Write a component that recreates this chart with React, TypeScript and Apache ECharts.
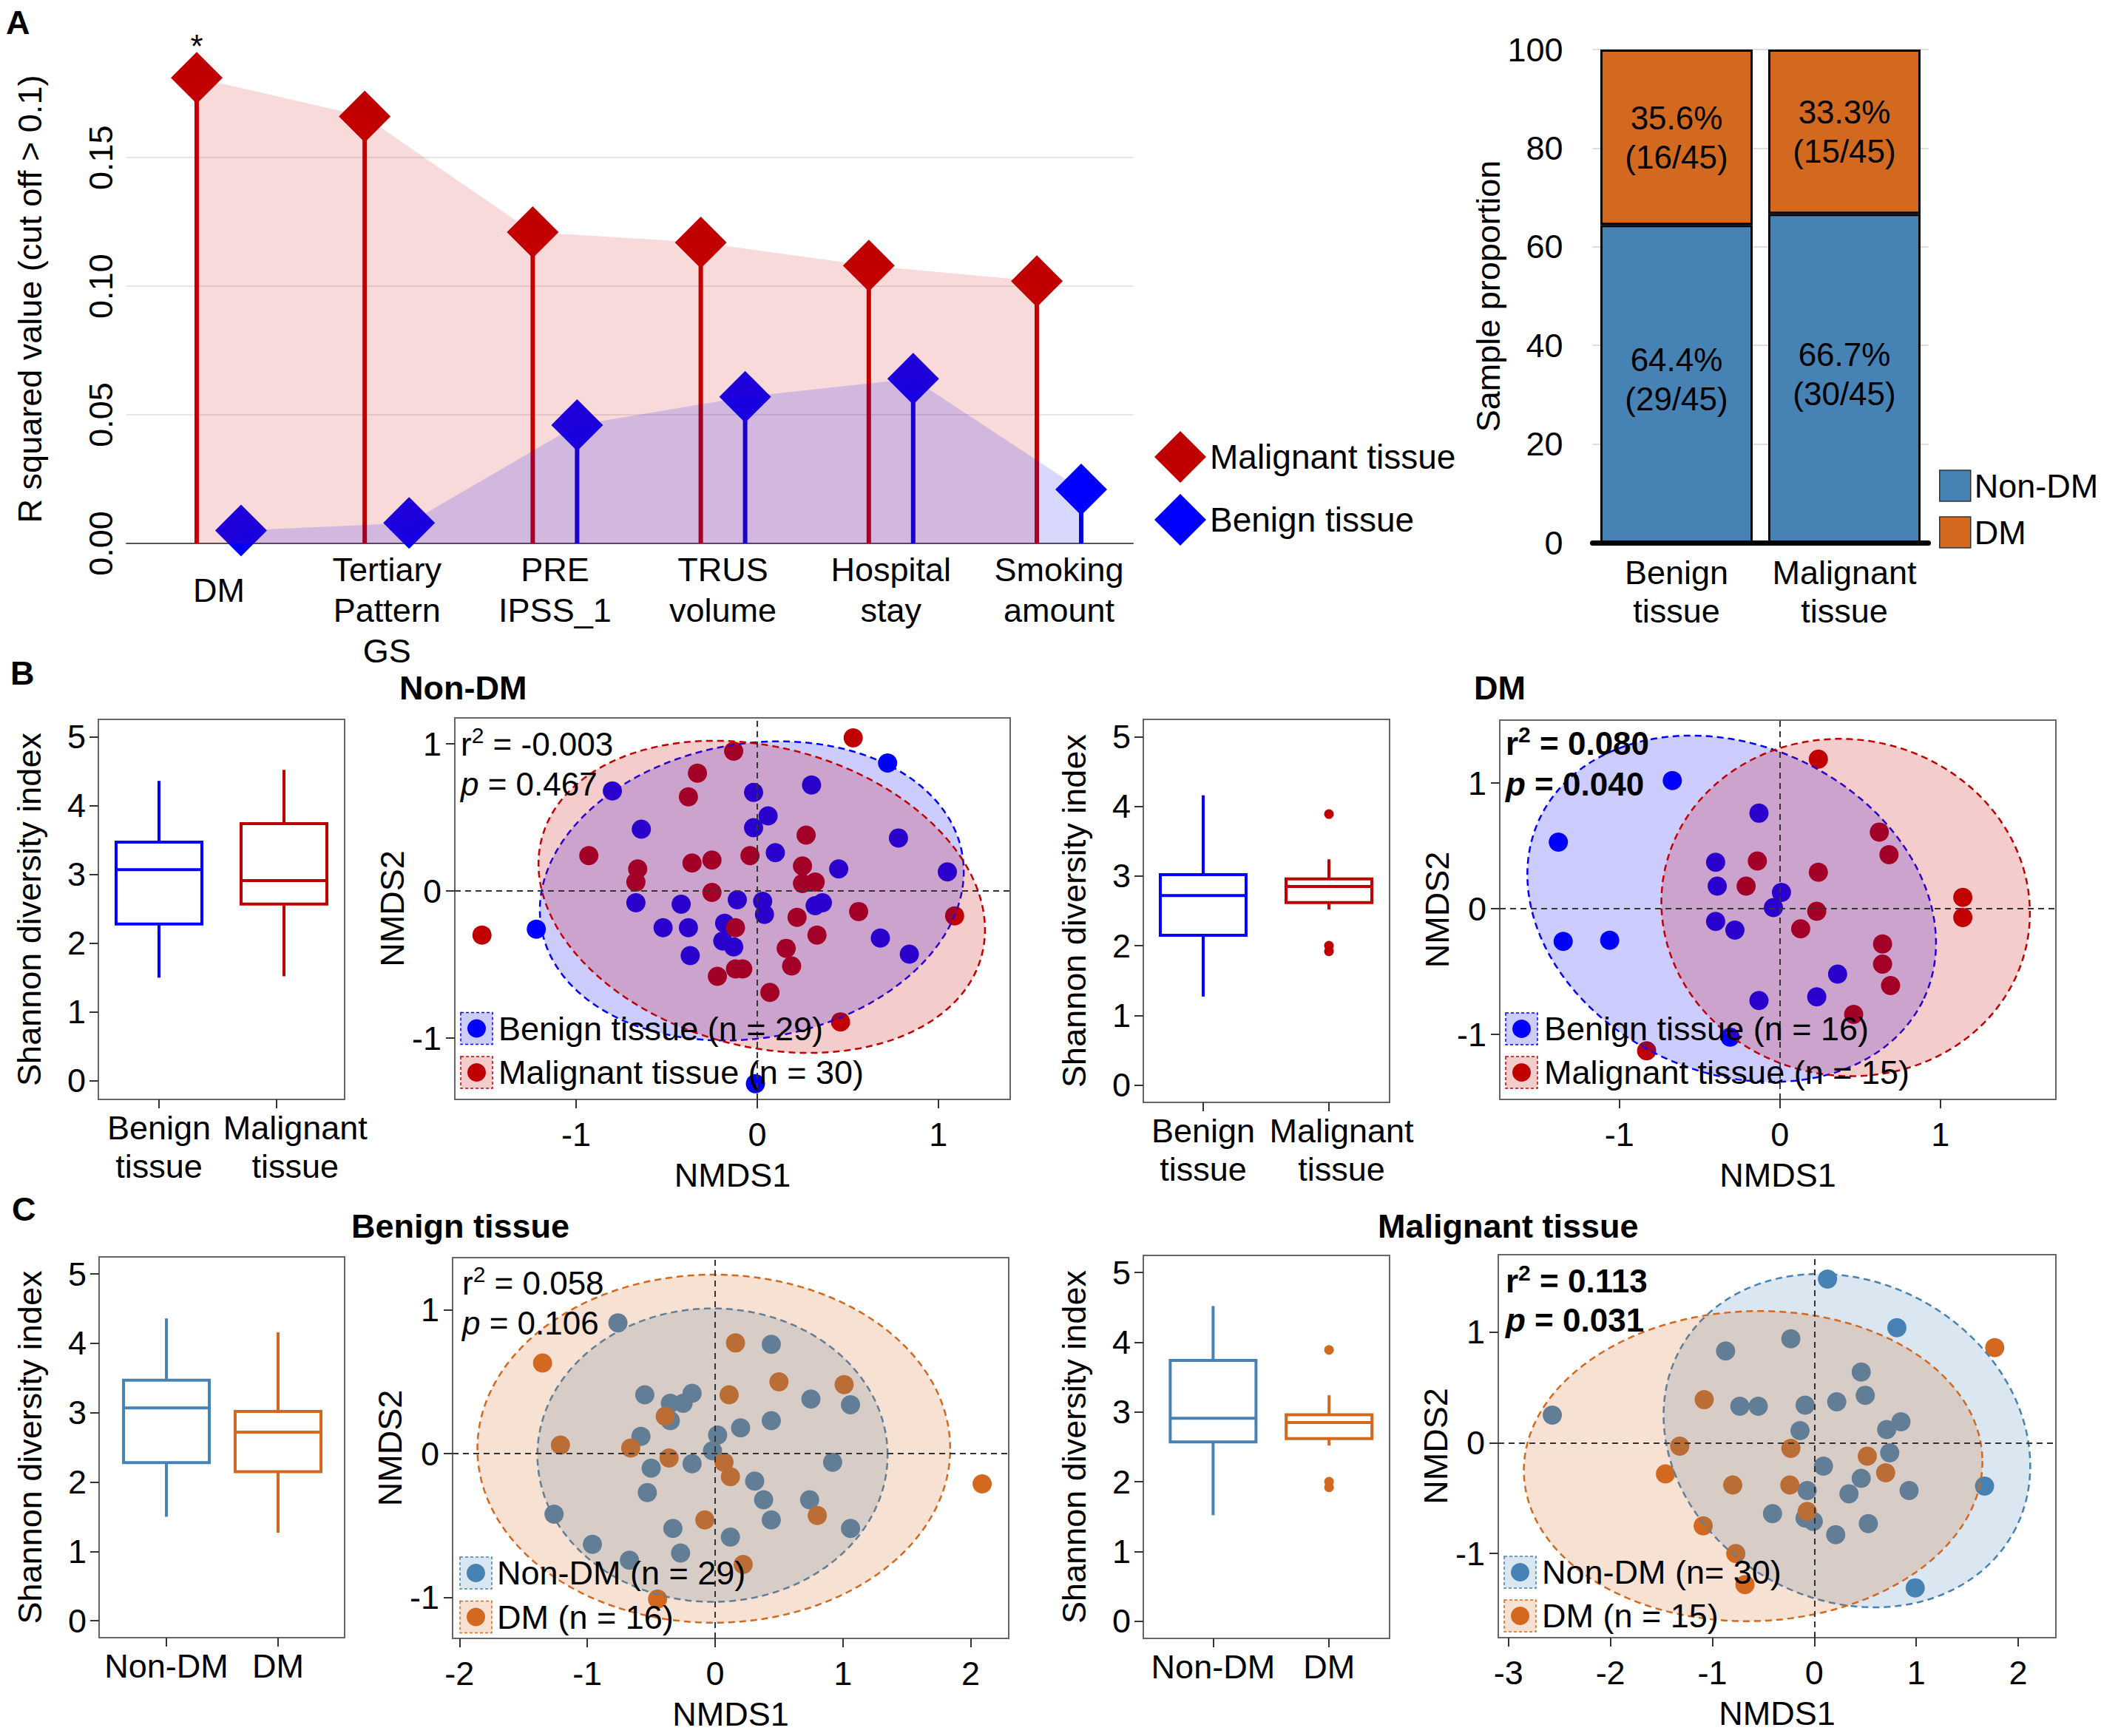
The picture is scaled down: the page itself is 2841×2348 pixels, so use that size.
import React, { useEffect, useRef } from "react";
import * as echarts from "echarts";

const FONT = "Liberation Sans, Arial, Helvetica, sans-serif";

// ---------- Panel A (left): R squared lollipop ----------
const aCategories = ["DM", "Tertiary\nPattern\nGS", "PRE\nIPSS_1", "TRUS\nvolume", "Hospital\nstay", "Smoking\namount"];
const aMalignantR2 = [0.181, 0.166, 0.121, 0.117, 0.108, 0.102];
const aBenignR2 = [0.005, 0.008, 0.046, 0.057, 0.064, 0.021];
const aSignificance = ["*", "", "", "", "", ""];
const aYTicks = [0, 0.05, 0.1, 0.15];

// ---------- Panel A (right): sample proportions ----------
const barCategories = ["Benign\ntissue", "Malignant\ntissue"];
const barNonDMCounts = [29, 30];
const barDMCounts = [16, 15];
const barTotals = [45, 45];

// ---------- Shannon boxplots: [min, Q1, median, Q3, max] ----------
const boxBenignNonDM = [1.5, 2.28, 3.07, 3.47, 4.36];
const boxBenignDM = [1.27, 2.15, 2.72, 3.02, 4.16];
const boxMalignantNonDM = [1.52, 2.57, 2.91, 3.74, 4.52];
const boxMalignantDM = [2.52, 2.62, 2.85, 2.96, 3.24];
const outliersMalignantDM = [3.89, 2.0, 1.92];
const shannonTicks = [0, 1, 2, 3, 4, 5];
const tissueLabels = ["Benign\ntissue", "Malignant\ntissue"];
const dmLabels = ["Non-DM", "DM"];

// ---------- NMDS (B, Non-DM) ----------
const bNonDMBenign = [[-0.8, 0.68], [0.3, 0.72], [0.72, 0.87], [-0.02, 0.67], [0.06, 0.51], [-0.02, 0.43], [-0.64, 0.42], [0.78, 0.36], [0.1, 0.26], [0.45, 0.15], [1.05, 0.13], [-0.67, -0.08], [-0.42, -0.09], [-0.11, -0.06], [0.03, -0.07], [0.04, -0.16], [0.32, -0.1], [0.36, -0.08], [-0.52, -0.25], [-0.38, -0.25], [-0.18, -0.22], [-0.19, -0.34], [-0.13, -0.38], [-0.37, -0.44], [0.68, -0.32], [0.84, -0.43], [-1.22, -0.26], [-0.01, -1.31]];
const bNonDMMalignant = [[0.53, 1.04], [-0.13, 0.95], [-0.33, 0.8], [-0.38, 0.64], [0.27, 0.38], [-0.93, 0.24], [-0.66, 0.15], [-0.67, 0.06], [-0.36, 0.19], [-0.25, 0.21], [-0.04, 0.24], [0.25, 0.17], [0.25, 0.05], [0.32, 0.06], [-0.25, -0.01], [0.22, -0.18], [0.56, -0.14], [1.09, -0.17], [-0.12, -0.25], [0.33, -0.3], [0.16, -0.39], [0.19, -0.51], [-0.12, -0.53], [-0.08, -0.53], [-0.22, -0.58], [0.07, -0.69], [0.46, -0.89], [-1.52, -0.3]];
// ellipses: [cx, cy, semi-axis a (x units), semi-axis b (y units), on-screen tilt in degrees]
const bNonDMBenignEllipse = [-0.03, 0.0, 1.18, 1.0, 10];
const bNonDMMalignantEllipse = [0.025, -0.04, 1.257, 1.017, -15];
const bNonDMStats = ["-0.003", "0.467"];

// ---------- NMDS (B, DM) ----------
const bDMBenign = [[-0.67, 1.02], [-1.38, 0.53], [-1.35, -0.26], [-1.06, -0.25], [-0.13, 0.76], [-0.4, 0.37], [-0.39, 0.18], [0.01, 0.13], [-0.04, 0.01], [-0.4, -0.1], [-0.28, -0.17], [0.36, -0.52], [0.23, -0.7], [-0.13, -0.73], [-0.31, -1.02]];
const bDMMalignant = [[0.24, 1.19], [0.62, 0.61], [0.68, 0.43], [-0.14, 0.38], [0.24, 0.29], [-0.21, 0.18], [0.23, -0.02], [0.13, -0.16], [1.14, 0.09], [1.14, -0.07], [0.64, -0.28], [0.64, -0.44], [0.69, -0.61], [0.46, -0.84], [-0.83, -1.13]];
const bDMBenignEllipse = [-0.3, 0.0, 1.322, 1.3, -25];
const bDMMalignantEllipse = [0.41, 0.01, 1.151, 1.337, -10];
const bDMStats = ["0.080", "0.040"];

// ---------- NMDS (C, Benign tissue) ----------
const cBenignNonDM = [[-0.76, 0.91], [0.44, 0.76], [-0.55, 0.41], [-0.18, 0.42], [-0.25, 0.35], [-0.35, 0.35], [-0.35, 0.23], [0.75, 0.38], [1.06, 0.34], [0.44, 0.23], [0.2, 0.18], [-0.58, 0.12], [0.02, 0.13], [-0.02, 0.02], [-0.5, -0.1], [-0.18, -0.07], [0.92, -0.06], [0.31, -0.19], [0.38, -0.32], [0.74, -0.32], [-0.53, -0.27], [-1.26, -0.42], [0.44, -0.46], [1.06, -0.52], [-0.33, -0.52], [0.12, -0.58], [-0.96, -0.63], [-0.27, -0.69], [-0.67, -0.74]];
const cBenignDM = [[-1.35, 0.63], [0.16, 0.77], [0.5, 0.5], [1.01, 0.48], [0.11, 0.41], [-0.39, 0.26], [-1.21, 0.06], [-0.66, 0.04], [-0.36, -0.03], [0.07, -0.06], [0.12, -0.16], [-0.08, -0.46], [0.8, -0.43], [2.09, -0.21], [0.22, -0.77], [-0.45, -1.01]];
const cBenignNonDMEllipse = [-0.02, -0.01, 1.37, 1.02, 0];
const cBenignDMEllipse = [-0.01, 0.035, 1.85, 1.21, 0];
const cBenignStats = ["0.058", "0.106"];

// ---------- NMDS (C, Malignant tissue) ----------
const cMalignantNonDM = [[0.13, 1.48], [0.81, 1.04], [-0.23, 0.94], [-0.87, 0.83], [0.46, 0.64], [0.5, 0.43], [0.22, 0.37], [-0.09, 0.34], [-0.73, 0.33], [-0.55, 0.33], [-2.57, 0.25], [-0.14, 0.11], [0.71, 0.12], [0.85, 0.19], [0.74, -0.09], [0.09, -0.21], [0.46, -0.32], [-0.07, -0.43], [0.34, -0.46], [0.93, -0.43], [1.67, -0.39], [-0.41, -0.64], [-0.09, -0.68], [-0.01, -0.71], [0.53, -0.73], [0.21, -0.83], [0.99, -1.31]];
const cMalignantDM = [[1.77, 0.86], [-1.08, 0.39], [-1.32, -0.03], [-0.23, -0.05], [0.52, -0.12], [0.7, -0.27], [-1.46, -0.28], [-0.8, -0.38], [-0.24, -0.38], [-1.09, -0.75], [-0.77, -1.0], [-0.68, -1.28], [-0.07, -0.62]];
const cMalignantNonDMEllipse = [0.32, 0.02, 1.866, 1.435, -29];
const cMalignantDMEllipse = [-0.6, -0.21, 2.25, 1.4, 2];
const cMalignantStats = ["0.113", "0.031"];

// ---------- colours ----------
const BLUE = "#0000FF";
const RED = "#C00000";
const STEEL = "#4682B4";
const CHOC = "#D2691E";

const axisText = { fontFamily: FONT, fontSize: 45, color: "#000" };
const tickStyle = { color: "#333", width: 2 };

function frameGrid(left: number, top: number, width: number, height: number) {
  return { left, top, width, height, show: true, borderColor: "#666", borderWidth: 2, backgroundColor: "transparent" };
}

function boxXAxis(gridIndex: number, min: number, max: number, labels: string[], ticks: number[] = [1, 2], labelPos: number[] = [1, 2]) {
  return {
    type: "value", gridIndex, min, max,
    axisLine: { show: false, onZero: false },
    axisTick: { show: true, length: 12, lineStyle: tickStyle, customValues: ticks },
    axisLabel: {
      ...axisText, customValues: labelPos, lineHeight: 52, margin: 12, showMinLabel: true, showMaxLabel: true,
      formatter: (v: number) => labels[Math.round(v) - 1] ?? "",
    },
    splitLine: { show: false },
  };
}
function boxYAxis(gridIndex: number, min: number, max: number) {
  return {
    type: "value", gridIndex, min, max,
    axisLine: { show: false, onZero: false },
    axisTick: { show: true, length: 12, lineStyle: tickStyle, customValues: shannonTicks },
    axisLabel: { ...axisText, customValues: shannonTicks, margin: 17, showMinLabel: true, showMaxLabel: true },
    splitLine: { show: false },
    name: "Shannon diversity index", nameLocation: "middle", nameGap: 71, nameTextStyle: axisText,
  };
}
function nmdsXAxis(gridIndex: number, min: number, max: number, ticks: number[]) {
  return {
    type: "value", gridIndex, min, max,
    axisLine: { show: false, onZero: false },
    axisTick: { show: true, length: 12, lineStyle: tickStyle, customValues: ticks },
    axisLabel: { ...axisText, customValues: ticks, margin: 25, showMinLabel: true, showMaxLabel: true },
    splitLine: { show: false },
    name: "NMDS1", nameLocation: "middle", nameGap: 80, nameTextStyle: axisText,
  };
}
function nmdsYAxis(gridIndex: number, min: number, max: number, ticks: number[]) {
  return {
    type: "value", gridIndex, min, max,
    axisLine: { show: false, onZero: false },
    axisTick: { show: true, length: 12, lineStyle: tickStyle, customValues: ticks },
    axisLabel: { ...axisText, customValues: ticks, margin: 18, showMinLabel: true, showMaxLabel: true },
    splitLine: { show: false },
    name: "NMDS2", nameLocation: "middle", nameGap: 58, nameTextStyle: axisText,
  };
}

function boxSeries(name: string, idx: number, boxes: number[][], colors: string[]) {
  return {
    type: "custom", name, xAxisIndex: idx, yAxisIndex: idx, z: 2, silent: true,
    data: boxes.map((b, i) => [i + 1, ...b]),
    encode: { x: 0, y: [1, 2, 3, 4, 5] },
    renderItem: (params: any, api: any) => {
      const x = api.value(0);
      const pMin = api.coord([x, api.value(1)]);
      const pQ1 = api.coord([x, api.value(2)]);
      const pMed = api.coord([x, api.value(3)]);
      const pQ3 = api.coord([x, api.value(4)]);
      const pMax = api.coord([x, api.value(5)]);
      const hw = 58;
      const style = { stroke: colors[params.dataIndex], lineWidth: 4, fill: null };
      return {
        type: "group",
        children: [
          { type: "line", shape: { x1: pMin[0], y1: pMin[1], x2: pQ1[0], y2: pQ1[1] }, style },
          { type: "line", shape: { x1: pQ3[0], y1: pQ3[1], x2: pMax[0], y2: pMax[1] }, style },
          { type: "rect", shape: { x: pQ3[0] - hw, y: pQ3[1], width: 2 * hw, height: pQ1[1] - pQ3[1] }, style: { ...style, fill: "rgba(255,255,255,0)" } },
          { type: "line", shape: { x1: pMed[0] - hw, y1: pMed[1], x2: pMed[0] + hw, y2: pMed[1] }, style },
        ],
      };
    },
  };
}

function outlierSeries(name: string, idx: number, pos: number, values: number[], color: string) {
  return {
    type: "scatter", name, xAxisIndex: idx, yAxisIndex: idx, z: 3, silent: true,
    data: values.map((v) => [pos, v]), symbolSize: 13, itemStyle: { color, opacity: 1 },
  };
}

function pointSeries(name: string, idx: number, data: number[][], color: string) {
  return { type: "scatter", name, xAxisIndex: idx, yAxisIndex: idx, data, symbolSize: 26, itemStyle: { color, opacity: 1 }, z: 2, silent: true };
}

function ellipseSeries(name: string, idx: number, params: number[], color: string, fill: string) {
  return {
    type: "custom", name, xAxisIndex: idx, yAxisIndex: idx, z: 3, silent: true,
    data: [params],
    encode: { x: 0, y: 1 },
    renderItem: (_p: any, api: any) => {
      const c = api.coord([api.value(0), api.value(1)]);
      const A = api.size([api.value(2), 0])[0];
      const B = api.size([0, api.value(3)])[1];
      const ang = (api.value(4) * Math.PI) / 180;
      const pts: number[][] = [];
      const N = 180;
      for (let k = 0; k < N; k++) {
        const t = (k / N) * 2 * Math.PI;
        const dx = A * Math.cos(t), dy = B * Math.sin(t);
        pts.push([c[0] + dx * Math.cos(ang) - dy * Math.sin(ang), c[1] - (dx * Math.sin(ang) + dy * Math.cos(ang))]);
      }
      return { type: "polygon", shape: { points: pts }, style: { fill, stroke: color, lineWidth: 2.5, lineDash: [9, 6] } };
    },
  };
}

function crossSeries(idx: number) {
  return {
    type: "scatter", name: "cross" + idx, xAxisIndex: idx, yAxisIndex: idx, data: [], z: 4, silent: true,
    markLine: {
      silent: true, symbol: ["none", "none"], label: { show: false },
      lineStyle: { type: [8, 6], color: "#333", width: 2 },
      data: [{ xAxis: 0 }, { yAxis: 0 }],
    },
  };
}

function statsText(x: number, top: number, lh: number, stats: string[], bold: boolean) {
  const fw = bold ? "bold" : "normal";
  return {
    type: "text", x, y: top, z: 10, silent: true,
    style: {
      text: `r{sup|2} = ${stats[0]}\n{it|p} = ${stats[1]}`,
      fontFamily: FONT, fontSize: 44, fontWeight: fw, fill: "#000", lineHeight: lh,
      align: "left", verticalAlign: "top",
      rich: {
        sup: { fontFamily: FONT, fontSize: 30, fontWeight: fw, fill: "#000", lineHeight: 30, verticalAlign: "top" },
        it: { fontFamily: FONT, fontSize: 44, fontWeight: fw, fontStyle: "italic", fill: "#000", lineHeight: lh },
      },
    },
  };
}

function legendItem(x: number, cy: number, textX: number, label: string, color: string, fill: string) {
  return [
    { type: "rect", z: 10, silent: true, shape: { x, y: cy - 21.5, width: 43, height: 43 }, style: { fill, stroke: color, lineWidth: 1.5, lineDash: [4, 3] } },
    { type: "circle", z: 11, silent: true, shape: { cx: x + 21.5, cy, r: 12.5 }, style: { fill: color } },
    { type: "text", z: 11, silent: true, x: textX, y: cy, style: { text: label, fontFamily: FONT, fontSize: 45, fill: "#000", align: "left", verticalAlign: "middle" } },
  ];
}

function titleItem(text: string, left: number, centerY: number, size = 45) {
  return { text, left, top: centerY - size / 2, padding: 0, textStyle: { fontFamily: FONT, fontSize: size, lineHeight: size, fontWeight: "bold", color: "#000" } };
}

function buildOption() {
  const offset = 0.132;
  const malPts = aMalignantR2.map((v, i) => [i - offset, v]);
  const benPts = aBenignR2.map((v, i) => [i + offset, v]);
  const stem = (color: string) => (_p: any, api: any) => {
    const x = api.value(0);
    const p0 = api.coord([x, 0]);
    const p1 = api.coord([x, api.value(1)]);
    return { type: "line", shape: { x1: p0[0], y1: p0[1], x2: p1[0], y2: p1[1] }, style: { stroke: color, lineWidth: 6 } };
  };
  const pctNonDM = barNonDMCounts.map((c, i) => (c / barTotals[i]) * 100);
  const pctDM = barDMCounts.map((c, i) => (c / barTotals[i]) * 100);

  const gl = "#E6E6E6";
  const none = "rgba(0,0,0,0)";

  return {
    animation: false,
    backgroundColor: "#fff",
    textStyle: { fontFamily: FONT },
    title: [
      titleItem("A", 8, 30),
      titleItem("B", 14, 910),
      titleItem("C", 16, 1635),
      titleItem("Non-DM", 540, 930),
      titleItem("DM", 1993, 930),
      titleItem("Benign tissue", 475, 1658),
      titleItem("Malignant tissue", 1863, 1658),
    ],
    legend: [
      {
        data: ["Malignant tissue", "Benign tissue"], orient: "vertical", left: 1556, top: 578,
        itemWidth: 70, itemHeight: 70, itemGap: 15, selectedMode: false,
        textStyle: { fontFamily: FONT, fontSize: 46, color: "#000" },
      },
      {
        data: ["Non-DM", "DM"], orient: "vertical", left: 2617, top: 629.5,
        itemWidth: 42, itemHeight: 42, itemGap: 18, icon: "rect", selectedMode: false,
        itemStyle: { borderColor: "#333", borderWidth: 1.5 },
        textStyle: { fontFamily: FONT, fontSize: 45, color: "#000" },
      },
    ],
    grid: [
      { left: 171, top: 74, width: 1361, height: 661, show: false },
      { left: 2153.5, top: 67, width: 454, height: 667, show: false },
      frameGrid(133, 973, 333, 514),
      frameGrid(615, 971, 751, 516),
      frameGrid(1546, 973, 333, 518),
      frameGrid(2028, 974, 752, 513),
      frameGrid(134, 1700, 332, 515),
      frameGrid(612, 1701, 752, 515),
      frameGrid(1546, 1698, 333, 518),
      frameGrid(2026, 1697, 754, 518),
    ],
    xAxis: [
      {
        type: "value", gridIndex: 0, min: -0.55, max: 5.44,
        axisLine: { show: true, onZero: false, lineStyle: { color: "#555", width: 2 } },
        axisTick: { show: false },
        splitLine: { show: false },
        axisLabel: {
          ...axisText, customValues: [0, 1, 2, 3, 4, 5], lineHeight: 55, margin: 8, showMinLabel: true, showMaxLabel: true,
          formatter: (v: number) => {
            const i = Math.round(v);
            return aCategories[i].indexOf("\n") < 0 ? `{one|${aCategories[i]}}` : aCategories[i];
          },
          rich: { one: { fontFamily: FONT, fontSize: 45, color: "#000", lineHeight: 110 } },
        },
      },
      {
        type: "category", gridIndex: 1, data: barCategories, z: 5,
        axisLine: { show: true, lineStyle: { color: "#000", width: 7 } },
        axisTick: { show: false },
        axisLabel: { ...axisText, interval: 0, lineHeight: 52, margin: 14 },
      },
      boxXAxis(2, 0.515, 2.485, tissueLabels, [1, 1.94], [1, 2.09]),
      nmdsXAxis(3, -1.67, 1.397, [-1, 0, 1]),
      boxXAxis(4, 0.524, 2.482, tissueLabels, [1, 2], [1, 2.1]),
      nmdsXAxis(5, -1.745, 1.72, [-1, 0, 1]),
      boxXAxis(6, 0.397, 2.596, dmLabels),
      nmdsXAxis(7, -2.054, 2.298, [-2, -1, 0, 1, 2]),
      boxXAxis(8, 0.398, 2.522, dmLabels),
      nmdsXAxis(9, -3.1, 2.37, [-3, -2, -1, 0, 1, 2]),
    ],
    yAxis: [
      {
        type: "value", gridIndex: 0, min: 0, max: 0.19, interval: 0.05,
        axisLine: { show: false }, axisTick: { show: false },
        splitLine: { show: true, lineStyle: { color: [gl, gl, gl, gl, none, none], width: 2 } },
        axisLabel: { ...axisText, customValues: aYTicks, rotate: 90, margin: 12, formatter: (v: number) => v.toFixed(2) },
        name: "R squared value (cut off > 0.1)", nameLocation: "middle", nameGap: 108, nameRotate: 90, nameTextStyle: axisText,
      },
      {
        type: "value", gridIndex: 1, min: 0, max: 100, interval: 20,
        axisLine: { show: false }, axisTick: { show: false },
        splitLine: { show: true, lineStyle: { color: "#DDDDDD", width: 2 } },
        axisLabel: { ...axisText, margin: 40 },
        name: "Sample proportion", nameLocation: "middle", nameGap: 117, nameTextStyle: axisText,
      },
      boxYAxis(2, -0.27, 5.254),
      nmdsYAxis(3, -1.417, 1.176, [-1, 0, 1]),
      boxYAxis(4, -0.25, 5.25),
      nmdsYAxis(5, -1.516, 1.5, [-1, 0, 1]),
      boxYAxis(6, -0.243, 5.247),
      nmdsYAxis(7, -1.284, 1.363, [-1, 0, 1]),
      boxYAxis(8, -0.247, 5.246),
      nmdsYAxis(9, -1.76, 1.7, [-1, 0, 1]),
    ],
    series: [
      // ---- Panel A lollipop ----
      { type: "custom", name: "Benign stem", xAxisIndex: 0, yAxisIndex: 0, z: 1, silent: true, data: benPts, encode: { x: 0, y: 1 }, renderItem: stem("#0000E6") },
      { type: "scatter", name: "Benign tissue", xAxisIndex: 0, yAxisIndex: 0, z: 1, silent: true, data: benPts, symbol: "diamond", symbolSize: 70, itemStyle: { color: BLUE, opacity: 1 } },
      { type: "custom", name: "Malignant stem", xAxisIndex: 0, yAxisIndex: 0, z: 2, silent: true, data: malPts, encode: { x: 0, y: 1 }, renderItem: stem(RED) },
      {
        type: "scatter", name: "Malignant tissue", xAxisIndex: 0, yAxisIndex: 0, z: 2, silent: true,
        symbol: "diamond", symbolSize: 70, itemStyle: { color: RED, opacity: 1 },
        data: malPts.map((p, i) => ({
          value: p,
          label: { show: aSignificance[i] !== "", formatter: aSignificance[i], position: "top", distance: -14, fontFamily: FONT, fontSize: 44, color: "#000" },
        })),
      },
      { type: "line", name: "Malignant area", xAxisIndex: 0, yAxisIndex: 0, z: 3, silent: true, data: malPts, symbol: "none", showSymbol: false, lineStyle: { width: 0, opacity: 0 }, areaStyle: { color: "rgba(204,0,0,0.21)" } },
      { type: "line", name: "Benign area", xAxisIndex: 0, yAxisIndex: 0, z: 4, silent: true, data: benPts, symbol: "none", showSymbol: false, lineStyle: { width: 0, opacity: 0 }, areaStyle: { color: "rgba(0,0,255,0.22)" } },

      // ---- Panel A stacked bars ----
      {
        type: "bar", name: "Non-DM", xAxisIndex: 1, yAxisIndex: 1, stack: "total", barWidth: 206, silent: true,
        data: pctNonDM, itemStyle: { color: STEEL, borderColor: "#000", borderWidth: 3 },
        label: { show: true, position: "inside", offset: [0, -6], fontFamily: FONT, fontSize: 44, lineHeight: 53, color: "#000",
          formatter: (p: any) => `${pctNonDM[p.dataIndex].toFixed(1)}%\n(${barNonDMCounts[p.dataIndex]}/${barTotals[p.dataIndex]})` },
      },
      {
        type: "bar", name: "DM", xAxisIndex: 1, yAxisIndex: 1, stack: "total", barWidth: 206, silent: true,
        data: pctDM, itemStyle: { color: CHOC, borderColor: "#000", borderWidth: 3 },
        label: { show: true, position: "inside", fontFamily: FONT, fontSize: 44, lineHeight: 53, color: "#000",
          formatter: (p: any) => `${pctDM[p.dataIndex].toFixed(1)}%\n(${barDMCounts[p.dataIndex]}/${barTotals[p.dataIndex]})` },
      },

      // ---- B: Non-DM ----
      boxSeries("B Non-DM box", 2, [boxBenignNonDM, boxMalignantNonDM], [BLUE, RED]),
      pointSeries("Benign tissue (n = 29)", 3, bNonDMBenign, BLUE),
      pointSeries("Malignant tissue (n = 30)", 3, bNonDMMalignant, RED),
      ellipseSeries("B Non-DM benign ellipse", 3, bNonDMBenignEllipse, BLUE, "rgba(0,0,255,0.2)"),
      ellipseSeries("B Non-DM malignant ellipse", 3, bNonDMMalignantEllipse, RED, "rgba(204,0,0,0.2)"),
      crossSeries(3),

      // ---- B: DM ----
      boxSeries("B DM box", 4, [boxBenignDM, boxMalignantDM], [BLUE, RED]),
      outlierSeries("B DM outliers", 4, 2, outliersMalignantDM, RED),
      pointSeries("Benign tissue (n = 16)", 5, bDMBenign, BLUE),
      pointSeries("Malignant tissue (n = 15)", 5, bDMMalignant, RED),
      ellipseSeries("B DM benign ellipse", 5, bDMBenignEllipse, BLUE, "rgba(0,0,255,0.2)"),
      ellipseSeries("B DM malignant ellipse", 5, bDMMalignantEllipse, RED, "rgba(204,0,0,0.2)"),
      crossSeries(5),

      // ---- C: Benign tissue ----
      boxSeries("C benign box", 6, [boxBenignNonDM, boxBenignDM], [STEEL, CHOC]),
      pointSeries("Non-DM (n = 29)", 7, cBenignNonDM, STEEL),
      pointSeries("DM (n = 16)", 7, cBenignDM, CHOC),
      ellipseSeries("C benign NonDM ellipse", 7, cBenignNonDMEllipse, STEEL, "rgba(70,130,180,0.2)"),
      ellipseSeries("C benign DM ellipse", 7, cBenignDMEllipse, CHOC, "rgba(210,105,30,0.2)"),
      crossSeries(7),

      // ---- C: Malignant tissue ----
      boxSeries("C malignant box", 8, [boxMalignantNonDM, boxMalignantDM], [STEEL, CHOC]),
      outlierSeries("C malignant outliers", 8, 2, outliersMalignantDM, CHOC),
      pointSeries("Non-DM (n= 30)", 9, cMalignantNonDM, STEEL),
      pointSeries("DM (n = 15)", 9, cMalignantDM, CHOC),
      ellipseSeries("C malignant NonDM ellipse", 9, cMalignantNonDMEllipse, STEEL, "rgba(70,130,180,0.2)"),
      ellipseSeries("C malignant DM ellipse", 9, cMalignantDMEllipse, CHOC, "rgba(210,105,30,0.2)"),
      crossSeries(9),
    ],
    graphic: [
      statsText(623, 979, 54, bNonDMStats, false),
      statsText(2036, 978, 55, bDMStats, true),
      statsText(625, 1708, 54, cBenignStats, false),
      statsText(2036, 1706, 53, cMalignantStats, true),
      ...legendItem(623, 1391, 674, "Benign tissue (n = 29)", BLUE, "rgba(0,0,255,0.2)"),
      ...legendItem(623, 1450.5, 674, "Malignant tissue (n = 30)", RED, "rgba(204,0,0,0.2)"),
      ...legendItem(2036, 1391.5, 2088, "Benign tissue (n = 16)", BLUE, "rgba(0,0,255,0.2)"),
      ...legendItem(2036, 1450.5, 2088, "Malignant tissue (n = 15)", RED, "rgba(204,0,0,0.2)"),
      ...legendItem(622, 2127.5, 672, "Non-DM (n = 29)", STEEL, "rgba(70,130,180,0.2)"),
      ...legendItem(622, 2187, 672, "DM (n = 16)", CHOC, "rgba(210,105,30,0.2)"),
      ...legendItem(2034, 2126.5, 2085, "Non-DM (n= 30)", STEEL, "rgba(70,130,180,0.2)"),
      ...legendItem(2034, 2185.5, 2085, "DM (n = 15)", CHOC, "rgba(210,105,30,0.2)"),
    ],
  };
}

export default function App() {
  const ref = useRef<HTMLDivElement>(null);
  useEffect(() => {
    document.body.style.margin = "0";
    const chart = echarts.init(ref.current as HTMLDivElement, null, { renderer: "svg" });
    chart.setOption(buildOption() as any);
    return () => chart.dispose();
  }, []);
  return <div ref={ref} style={{ width: 2841, height: 2348, background: "#fff" }} />;
}
